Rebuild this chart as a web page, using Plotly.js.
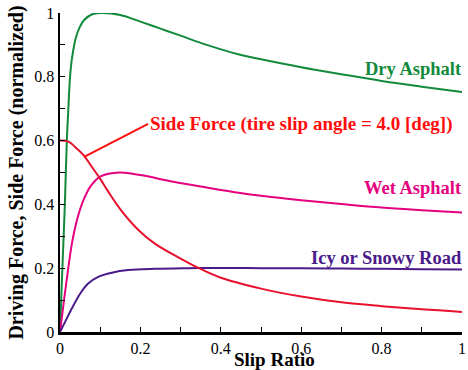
<!DOCTYPE html>
<html>
<head>
<meta charset="utf-8">
<script src="https://cdn.plot.ly/plotly-3.0.1.min.js"></script>
<style>html,body{margin:0;padding:0;background:#fff;}#chart{width:468px;height:370px;}</style>
</head>
<body>
<div id="chart"></div>
<script>
// Slip ratio samples and curves
const dryX  = [0, 0.005, 0.01, 0.0124, 0.017, 0.02, 0.025, 0.03, 0.04, 0.05, 0.06, 0.08, 0.1, 0.15, 0.2, 0.25, 0.3, 0.365, 0.448, 0.5, 0.6, 0.7, 0.8, 0.9, 1.0];
const dryY  = [0, 0.17, 0.33, 0.413, 0.6, 0.68, 0.8, 0.86, 0.925, 0.958, 0.978, 0.996, 1.0, 0.994, 0.973, 0.951, 0.929, 0.9, 0.869, 0.855, 0.83, 0.808, 0.787, 0.769, 0.752];

const wetX  = [0, 0.01, 0.02, 0.03, 0.04, 0.05, 0.06, 0.075, 0.1, 0.149, 0.2, 0.282, 0.365, 0.448, 0.5, 0.6, 0.7, 0.8, 0.9, 1.0];
const wetY  = [0, 0.1, 0.195, 0.28, 0.34, 0.385, 0.418, 0.455, 0.487, 0.5, 0.492, 0.471, 0.453, 0.436, 0.427, 0.413, 0.401, 0.39, 0.382, 0.375];

const icyX  = [0, 0.0124, 0.029, 0.05, 0.07, 0.095, 0.129, 0.17, 0.236, 0.319, 0.4, 0.5, 0.6, 0.7, 0.8, 0.9, 1.0];
const icyY  = [0, 0.031, 0.073, 0.12, 0.152, 0.173, 0.186, 0.194, 0.198, 0.2, 0.201, 0.2, 0.2, 0.199, 0.198, 0.197, 0.196];

const sideX = [0, 0.021, 0.037, 0.058, 0.079, 0.1, 0.12, 0.153, 0.195, 0.236, 0.3, 0.344, 0.4, 0.5, 0.6, 0.7, 0.8, 0.9, 1.0];
const sideY = [0.6, 0.597, 0.581, 0.555, 0.518, 0.48, 0.44, 0.38, 0.32, 0.277, 0.23, 0.201, 0.17, 0.136, 0.111, 0.093, 0.081, 0.071, 0.063];

const labels = {
  dry: 'Dry Asphalt',
  wet: 'Wet Asphalt',
  icy: 'Icy or Snowy Road',
  side: 'Side Force (tire slip angle = 4.0 [deg])',
  xTitle: 'Slip Ratio',
  yTitle: 'Driving Force, Side Force (normalized)'
};

const colors = {dry: '#128a3c', wet: '#e4007f', icy: '#4a1a8a', side: '#e8102c', sideText: '#ff0d0d'};
const serif = 'Liberation Serif, Times New Roman, serif';

function tr(x, y, c, name) {
  return {x: x, y: y, name: name, type: 'scatter', mode: 'lines',
    line: {color: c, width: 2, shape: 'spline', smoothing: 1},
    hoverinfo: 'skip', showlegend: false};
}

const data = [
  tr(dryX, dryY, colors.dry, labels.dry),
  tr(wetX, wetY, colors.wet, labels.wet),
  tr(icyX, icyY, colors.icy, labels.icy),
  tr(sideX, sideY, colors.side, labels.side)
];

const layout = {
  width: 468, height: 370,
  margin: {l: 60, r: 6, t: 13, b: 38},
  paper_bgcolor: '#fff', plot_bgcolor: '#fff',
  font: {family: serif, color: '#000', size: 16},
  xaxis: {
    range: [0, 1], dtick: 0.2, tick0: 0, showgrid: false, zeroline: false,
    showline: true, linecolor: '#000', linewidth: 2.5,
    ticks: 'inside', ticklen: 5, tickwidth: 1, tickcolor: '#000',
    minor: {dtick: 0.1, ticks: 'inside', ticklen: 5, tickwidth: 1, tickcolor: '#000'},
    tickfont: {family: serif, size: 16, color: '#000'}
  },
  yaxis: {
    range: [0, 1], dtick: 0.2, tick0: 0, showgrid: false, zeroline: false,
    showline: true, linecolor: '#000', linewidth: 2.5,
    ticks: 'inside', ticklen: 5, tickwidth: 1, tickcolor: '#000',
    minor: {dtick: 0.1, ticks: 'inside', ticklen: 5, tickwidth: 1, tickcolor: '#000'},
    tickfont: {family: serif, size: 16, color: '#000'},
    title: {text: '<b>' + labels.yTitle + '</b>', font: {family: serif, size: 20, color: '#000'}, standoff: 6}
  },
  annotations: [
    {x: 0.534, y: 0, xref: 'x', yref: 'paper', text: '<b>' + labels.xTitle + '</b>', showarrow: false,
      xanchor: 'center', yanchor: 'middle', yshift: -27.5, borderpad: 0, font: {family: serif, size: 19, color: '#000'}},
    {x: 1, y: 0.824, xref: 'x', yref: 'y', text: '<b>' + labels.dry + '</b>', showarrow: false,
      xanchor: 'right', yanchor: 'middle', xshift: 2, font: {family: serif, size: 18.5, color: colors.dry}},
    {x: 1, y: 0.451, xref: 'x', yref: 'y', text: '<b>' + labels.wet + '</b>', showarrow: false,
      xanchor: 'right', yanchor: 'middle', xshift: 2, font: {family: serif, size: 18.5, color: colors.wet}},
    {x: 1, y: 0.2305, xref: 'x', yref: 'y', text: '<b>' + labels.icy + '</b>', showarrow: false,
      xanchor: 'right', yanchor: 'middle', xshift: 2, font: {family: serif, size: 18.5, color: colors.icy}},
    {x: 0.06, y: 0.549, xref: 'x', yref: 'y', text: '<b>' + labels.side + '</b>', showarrow: true,
      arrowhead: 0, arrowwidth: 2, arrowcolor: '#ff0d0d', ax: 64, ay: -33, standoff: 0,
      xanchor: 'left', yanchor: 'middle', font: {family: serif, size: 19, color: colors.sideText}}
  ]
};

Plotly.newPlot('chart', data, layout, {staticPlot: true, displayModeBar: false});
</script>
</body>
</html>
